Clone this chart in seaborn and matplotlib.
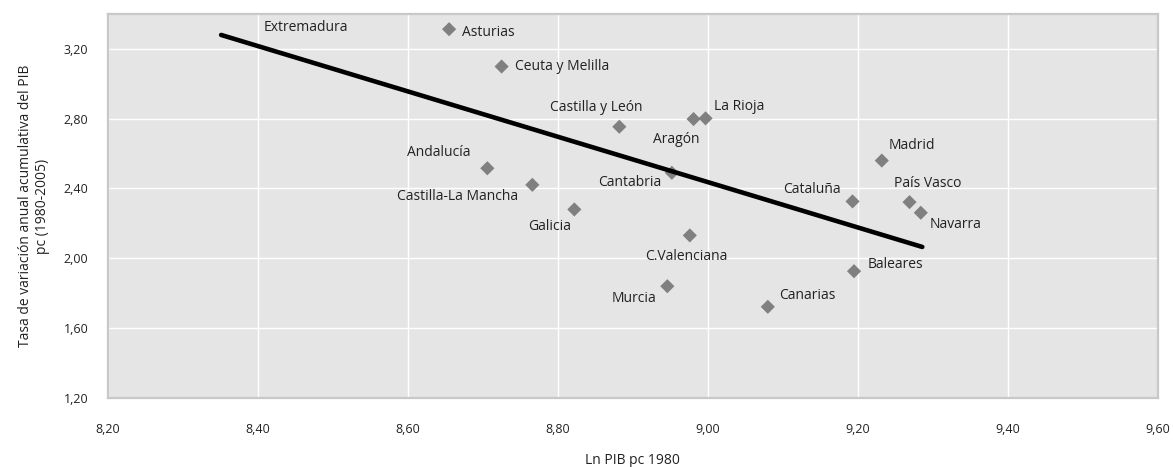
import pandas as pd
import matplotlib.pyplot as plt
import seaborn as sns

# Regions: Ln PIB pc 1980 vs growth rate 1980-2005
regions = ['Extremadura', 'Asturias', 'Ceuta y Melilla', 'Castilla y León', 'Aragón',
           'La Rioja', 'Andalucía', 'Castilla-La Mancha', 'Cantabria', 'Galicia',
           'C.Valenciana', 'Murcia', 'Canarias', 'Madrid', 'Cataluña', 'País Vasco',
           'Navarra', 'Baleares']
ln_pib = [8.351, 8.655, 8.725, 8.882, 8.981, 8.997, 8.706, 8.766, 8.952, 8.822,
          8.976, 8.946, 9.080, 9.232, 9.193, 9.269, 9.284, 9.195]
tasa = [3.48, 3.313, 3.099, 2.754, 2.798, 2.802, 2.516, 2.421, 2.490, 2.280,
        2.131, 1.840, 1.722, 2.560, 2.326, 2.322, 2.261, 1.926]

# trend line
trend_x = [8.351, 9.286]
trend_y = [3.28, 2.065]

x_ticks = [8.20, 8.40, 8.60, 8.80, 9.00, 9.20, 9.40, 9.60]
y_ticks = [1.20, 1.60, 2.00, 2.40, 2.80, 3.20]

# label placement (offset in pixels, horizontal alignment)
label_pos = {
    'Extremadura': (42, -27, 'left'),
    'Asturias': (13, -3, 'left'),
    'Ceuta y Melilla': (13, 0, 'left'),
    'Castilla y León': (-23, 19, 'center'),
    'Aragón': (-17, -20, 'center'),
    'La Rioja': (8, 12, 'left'),
    'Andalucía': (-17, 16, 'right'),
    'Castilla-La Mancha': (-14, -12, 'right'),
    'Cantabria': (-10, -10, 'right'),
    'Galicia': (-25, -17, 'center'),
    'C.Valenciana': (-4, -21, 'center'),
    'Murcia': (-11, -12, 'right'),
    'Canarias': (11, 11, 'left'),
    'Madrid': (7, 15, 'left'),
    'Cataluña': (-12, 12, 'right'),
    'País Vasco': (-16, 19, 'left'),
    'Navarra': (9, -12, 'left'),
    'Baleares': (14, 7, 'left'),
}

df = pd.DataFrame({'region': regions, 'x': ln_pib, 'y': tasa})
trend = pd.DataFrame({'x': trend_x, 'y': trend_y})

sns.set_style('darkgrid', {'axes.facecolor': '#e5e5e5', 'grid.color': 'white',
                           'axes.edgecolor': '#c8c8c8'})
plt.rcParams['font.family'] = ['Open Sans', 'DejaVu Sans']

fig, ax = plt.subplots(figsize=(11.73, 4.67), dpi=100)
fig.subplots_adjust(left=0.092, right=0.987, top=0.970, bottom=0.148)

sns.scatterplot(data=df, x='x', y='y', marker='D', s=52, color='#808080',
                edgecolor='none', ax=ax, zorder=3)
sns.lineplot(data=trend, x='x', y='y', color='black', linewidth=3.3, ax=ax, zorder=4)

for name, xv, yv in zip(regions, ln_pib, tasa):
    dx, dy, ha = label_pos[name]
    ax.annotate(name, (xv, yv), xytext=(dx, dy), textcoords='offset pixels',
                ha=ha, va='center', fontsize=10, color='#222222',
                annotation_clip=False, zorder=5)

ax.set_xlim(8.2, 9.6)
ax.set_ylim(1.2, 3.4)
ax.set_xticks(x_ticks)
ax.set_yticks(y_ticks)
ax.set_xticklabels([f'{v:.2f}'.replace('.', ',') for v in x_ticks])
ax.set_yticklabels([f'{v:.2f}'.replace('.', ',') for v in y_ticks])
ax.tick_params(axis='both', length=8, width=1.2, color='#c8c8c8', labelsize=9,
               labelcolor='#222222', pad=6)
ax.tick_params(axis='x', pad=10)
ax.grid(True, color='white', linewidth=1)
for sp in ax.spines.values():
    sp.set_visible(True)
    sp.set_color('#c8c8c8')
    sp.set_linewidth(1.6)

ax.set_xlabel('Ln PIB pc 1980', fontsize=10, color='#222222', labelpad=12)
ax.set_ylabel('Tasa de variación anual acumulativa del PIB\npc (1980-2005)',
              fontsize=10, color='#222222', labelpad=10)

plt.savefig('out.png', dpi=100)
plt.close()
